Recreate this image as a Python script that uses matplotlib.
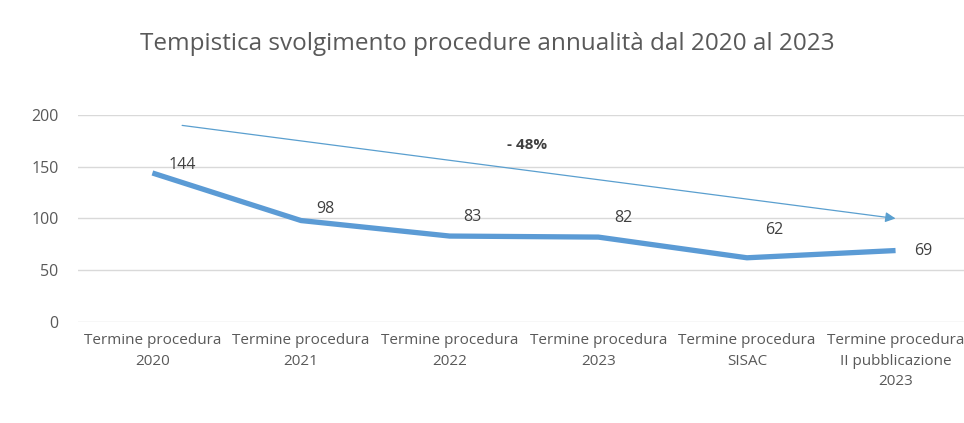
import matplotlib
matplotlib.use("Agg")
import matplotlib.pyplot as plt

categorie = ["Termine procedura\n2020", "Termine procedura\n2021", "Termine procedura\n2022",
             "Termine procedura\n2023", "Termine procedura\nSISAC", "Termine procedura\nII pubblicazione\n2023"]
giorni = [144, 98, 83, 82, 62, 69]
# spostamento etichette (pixel) come nell'originale
off_x = [30, 24, 23, 25, 27, 28]
off_y = [8, 12, 19, 19, 28, 0]

freccia_da = (0.2, 190)
freccia_a = (5.0, 100)
testo_freccia = "- 48%"

blu = "#5B9BD5"
grigio = "#595959"

plt.rcParams['font.family'] = ['Open Sans', 'DejaVu Sans']

fig = plt.figure(figsize=(9.64, 4.23), dpi=100)
ax = fig.add_axes([0.081, 0.239, 0.922, 0.489])

x = list(range(len(giorni)))
ax.plot(x, giorni, color=blu, lw=3.8, solid_capstyle='butt', zorder=3)

for i, v in enumerate(giorni):
    ax.annotate(str(v), (i, v), xytext=(off_x[i], off_y[i]), textcoords='offset pixels',
                ha='center', va='center', fontsize=11.5, color="#404040")

ax.annotate("", xy=freccia_a, xytext=freccia_da,
            arrowprops=dict(arrowstyle='-|>,head_length=0.6,head_width=0.3', color="#5A9FCF", lw=0.9,
                            shrinkA=0, shrinkB=0))
ax.text(2.52, 171, testo_freccia, ha='center', va='center', fontsize=11, fontweight='bold', color="#404040")

ax.set_xlim(-0.5, 5.48)
ax.set_ylim(0, 200)
ax.set_yticks([0, 50, 100, 150, 200])
ax.set_xticks(x)
ax.set_xticklabels(categorie, fontsize=11, color=grigio, linespacing=1.5)
ax.tick_params(axis='y', labelsize=11.5, labelcolor=grigio, length=0, pad=14)
ax.tick_params(axis='x', length=0, pad=8)
ax.grid(axis='y', color="#D9D9D9", lw=1)
ax.set_axisbelow(True)
for s in ax.spines.values():
    s.set_visible(False)

fig.text(0.505, 0.895, "Tempistica svolgimento procedure annualità dal 2020 al 2023",
         ha='center', va='center', fontsize=17.5, color=grigio)

fig.savefig("out.png", dpi=100)
